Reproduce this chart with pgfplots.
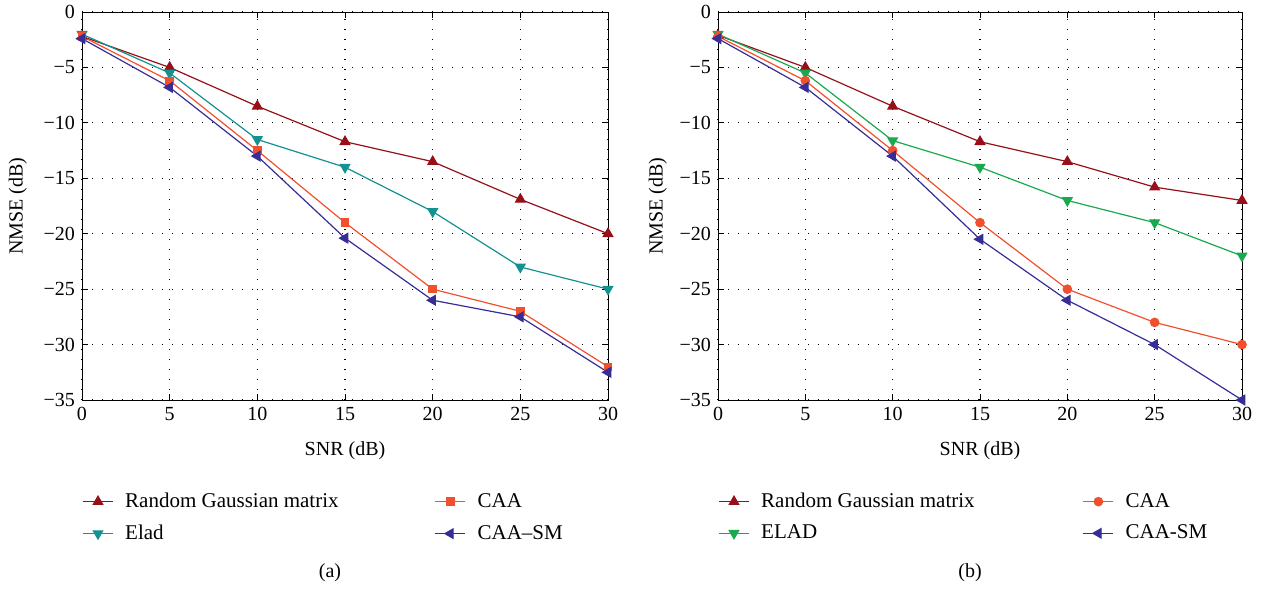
\documentclass[border=0pt]{standalone}
\usepackage{fontspec}
\setmainfont{Liberation Serif}
\usepackage{pgfplots}
\pgfplotsset{compat=1.18}

\definecolor{cRG}{RGB}{150,15,25}
\definecolor{cElad}{RGB}{20,145,145}
\definecolor{cCAA}{RGB}{240,80,45}
\definecolor{cSM}{RGB}{55,45,150}
\definecolor{cELAD}{RGB}{25,170,80}

\pgfplotsset{
  nmse/.style={
    scale only axis, width=263pt, height=194pt,
    xmin=0, xmax=30, ymin=-35, ymax=0,
    xtick={0,5,...,30},
    ytick={-35,-30,...,0},
    yticklabels={−35,−30,−25,−20,−15,−10,−5,0},
    tick align=inside, major tick length=3pt,
    xmajorgrids, ymajorgrids,
    grid style={black, line width=0.6pt, dash pattern=on 0.6pt off 4.4pt},
    axis line style={line width=0.5pt},
    tick style={black, line width=0.5pt},
    every tick label/.append style={font=\fontsize{10}{11}\selectfont},
    label style={font=\fontsize{10}{11}\selectfont},
    /pgf/number format/assume math mode=true,
    xlabel={SNR (dB)}, ylabel={NMSE (dB)},
    xlabel style={at={(axis description cs:0.5,-0.13)}, anchor=center},
    legend columns=2, transpose legend,
    legend cell align=left,
    legend style={draw=none, fill=none, inner sep=0pt,
      at={(axis description cs:0,-0.228)}, anchor=north west,
      font=\fontsize{10.5}{11}\selectfont, row sep=3.2pt,
      nodes={inner xsep=5.8pt}},
    legend image code/.code={\draw[mark repeat=2,mark phase=2] plot coordinates {(0pt,0pt)(7.5pt,0pt)(15pt,0pt)};},
    every axis plot/.append style={line width=0.6pt},
  }
}

\begin{document}
\begin{tikzpicture}
\useasboundingbox (-41pt,-94.5pt) rectangle (593pt,200pt);

\begin{axis}[nmse, at={(0pt,0pt)}, anchor=south west,
  ylabel style={at={(axis description cs:-0.122,0.5)}, anchor=center}]
\addplot[color=cRG, mark=triangle*, mark size=2.7pt] coordinates {(0,-2.2) (5,-5.0) (10,-8.5) (15,-11.7) (20,-13.5) (25,-16.9) (30,-20.0)};
\addplot[color=cElad, mark=triangle*, mark size=2.7pt, mark options={rotate=180}] coordinates {(0,-2.0) (5,-5.5) (10,-11.5) (15,-14.0) (20,-18.0) (25,-23.0) (30,-25.0)};
\addplot[color=cCAA, mark=square*, mark size=1.8pt] coordinates {(0,-2.2) (5,-6.2) (10,-12.5) (15,-19.0) (20,-25.0) (25,-27.0) (30,-32.0)};
\addplot[color=cSM, mark=triangle*, mark size=2.7pt, mark options={rotate=90}] coordinates {(0,-2.4) (5,-6.8) (10,-13.0) (15,-20.4) (20,-26.0) (25,-27.5) (30,-32.5)};
\legend{\makebox[149pt][l]{Random Gaussian matrix}, Elad, CAA, CAA–SM}
\end{axis}

\begin{axis}[nmse, at={(318pt,0pt)}, anchor=south west, width=262pt,
  ylabel style={at={(axis description cs:-0.115,0.5)}, anchor=center}]
\addplot[color=cRG, mark=triangle*, mark size=2.7pt] coordinates {(0,-2.1) (5,-5.0) (10,-8.5) (15,-11.7) (20,-13.5) (25,-15.8) (30,-17.0)};
\addplot[color=cELAD, mark=triangle*, mark size=2.7pt, mark options={rotate=180}] coordinates {(0,-2.0) (5,-5.5) (10,-11.6) (15,-14.0) (20,-17.0) (25,-19.0) (30,-22.0)};
\addplot[color=cCAA, mark=*, mark size=2.1pt] coordinates {(0,-2.2) (5,-6.2) (10,-12.5) (15,-19.0) (20,-25.0) (25,-28.0) (30,-30.0)};
\addplot[color=cSM, mark=triangle*, mark size=2.7pt, mark options={rotate=90}] coordinates {(0,-2.4) (5,-6.8) (10,-13.0) (15,-20.5) (20,-26.0) (25,-30.0) (30,-35.0)};
\legend{\makebox[155pt][l]{Random Gaussian matrix}, ELAD, CAA, CAA-SM}
\end{axis}

\node[font=\fontsize{10}{11}\selectfont] at (124pt,-86.5pt) {(a)};
\node[font=\fontsize{10}{11}\selectfont] at (444pt,-86.5pt) {(b)};
\end{tikzpicture}
\end{document}
